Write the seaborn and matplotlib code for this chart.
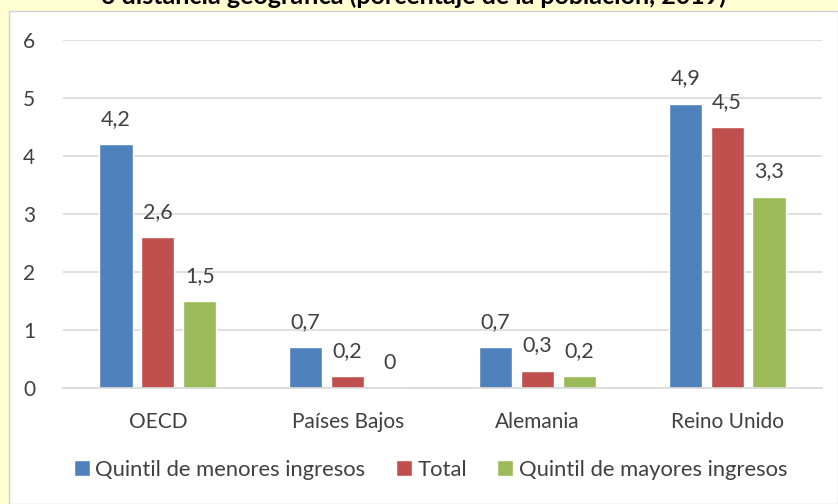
import matplotlib
matplotlib.use("Agg")
import matplotlib.pyplot as plt
import seaborn as sns
import pandas as pd
from matplotlib.patches import Rectangle

categories = ["OECD", "Países Bajos", "Alemania", "Reino Unido"]
series_names = ["Quintil de menores ingresos", "Total", "Quintil de mayores ingresos"]
low_income = [4.2, 0.7, 0.7, 4.9]
total = [2.6, 0.2, 0.3, 4.5]
high_income = [1.5, 0.0, 0.2, 3.3]
colors = ["#4F81BD", "#C0504D", "#9BBB59"]
title = "o distancia geográfica (porcentaje de la población, 2019)"

rows = []
for name, vals in zip(series_names, [low_income, total, high_income]):
    for c, v in zip(categories, vals):
        rows.append({"Categoría": c, "Serie": name, "Valor": v})
df = pd.DataFrame(rows)

sns.set_theme(style="white")
plt.rcParams["font.family"] = ["Lato", "DejaVu Sans"]

fig = plt.figure(figsize=(8.38, 5.04), dpi=100)
fig.patch.set_facecolor("#FFFFD2")
fig.patches.append(Rectangle((9/838, 0), 1 - 9/838, 1 - 11/504, transform=fig.transFigure,
                             facecolor="white", edgecolor="#D0D0D0", linewidth=1, zorder=-5))
ax = fig.add_axes([63/838, 1 - 388/504, (822 - 63)/838, (388 - 40)/504])
ax.set_zorder(2)
ax.set_facecolor("none")

sns.barplot(data=df, x="Categoría", y="Valor", hue="Serie", order=categories,
            hue_order=series_names, palette=colors, width=0.663, gap=0.21,
            saturation=1, ax=ax, legend=True)

for cont in ax.containers:
    labels = [f"{b.get_height():g}".replace(".", ",") for b in cont]
    ax.bar_label(cont, labels=labels, padding=11, fontsize=15.5, color="#404040")

ax.set_ylim(0, 6)
ax.set_yticks(range(0, 7))
ax.yaxis.grid(True, color="#D9D9D9", linewidth=1.2)
ax.set_axisbelow(True)
for s in ["top", "right", "left"]:
    ax.spines[s].set_visible(False)
ax.spines["bottom"].set_color("#D9D9D9")
ax.spines["bottom"].set_linewidth(1.2)
ax.tick_params(axis="y", length=0, pad=20, labelsize=15, labelcolor="#404040")
ax.tick_params(axis="x", length=0, pad=17, labelsize=15, labelcolor="#404040")
ax.set_xlabel("")
ax.set_ylabel("")

ax.legend(loc="center", bbox_to_anchor=(0.5 - 12/759, -0.235), ncol=3, frameon=False,
          fontsize=15.8, handlelength=0.72, handleheight=0.72, handletextpad=0.25,
          columnspacing=1.4, labelcolor="#404040")

fig.text(0.5 - 6/838, 1 - 4/504, title, ha="center", va="baseline", fontsize=18,
         fontweight="bold", color="black")

fig.savefig("out.png", dpi=100, facecolor=fig.get_facecolor())
